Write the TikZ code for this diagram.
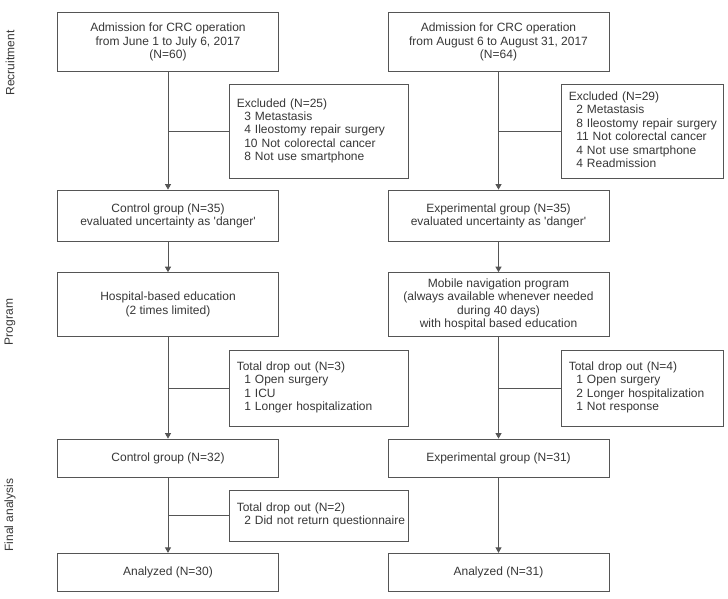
\documentclass[tikz,border=0pt]{standalone}
\usepackage{fontspec}
\setmainfont{Liberation Sans}
\usetikzlibrary{arrows.meta}
\definecolor{linec}{RGB}{85,85,85}
\definecolor{textc}{RGB}{55,55,55}
\tikzset{
  box/.style={draw=linec, line width=0.9pt, text=textc, align=center, inner sep=0pt, font=\fontsize{12}{13.4}\selectfont},
  sidebox/.style={draw=linec, line width=0.9pt, text=textc, align=left, inner xsep=7pt, inner ysep=0pt, font=\fontsize{12}{13.4}\selectfont},
  conn/.style={draw=linec, line width=0.9pt},
  arr/.style={conn, -{Triangle[width=6pt,length=5.5pt]}},
  sidelabel/.style={text=textc, rotate=90, font=\fontsize{12}{13.4}\selectfont}
}
\newcommand{\ind}{\hspace*{7.5pt}}
\newcommand{\sq}{\textquotesingle}
\newcommand{\lst}[1]{\begin{tabular}{@{}l@{}}#1\end{tabular}}
\begin{document}
\begin{tikzpicture}[x=1pt,y=-1pt]
\useasboundingbox (0,0) rectangle (728,599);
% side labels
\node[sidelabel] (lr) at (10,63) {Recruitment};
\node[sidelabel] (lp) at (10,322) {Program};
\node[sidelabel] (lf) at (10,515) {Final analysis};
% left column
\node[box, minimum width=221pt, minimum height=59pt] (a1) at (168,42.2) {Admission for CRC operation\\from June 1 to July 6, 2017\\(N=60)};
\node[sidebox, text width=164.7pt, minimum height=93.3pt, anchor=west] (e1) at (229.3,131.3) {\lst{Excluded (N=25)\\\ind 3 Metastasis\\\ind 4 Ileostomy repair surgery\\\ind 10 Not colorectal cancer\\\ind 8 Not use smartphone}};
\node[box, minimum width=221pt, minimum height=51.3pt] (c1) at (168,215.7) {Control group (N=35)\\evaluated uncertainty as \sq danger\sq};
\node[box, minimum width=221pt, minimum height=63.3pt] (h1) at (168,304.3) {Hospital-based education\\(2 times limited)};
\node[sidebox, text width=164.7pt, minimum height=76pt, anchor=west] (d1) at (229.3,388) {\lst{Total drop out (N=3)\\\ind 1 Open surgery\\\ind 1 ICU\\\ind 1 Longer hospitalization}};
\node[box, minimum width=221pt, minimum height=38.3pt] (g1) at (168,458.2) {Control group (N=32)};
\node[sidebox, text width=164.7pt, minimum height=51pt, anchor=west] (f1) at (229.3,515.5) {\lst{Total drop out (N=2)\\\ind 2 Did not return questionnaire}};
\node[box, minimum width=221pt, minimum height=38.4pt] (n1) at (168,572.5) {Analyzed (N=30)};
% right column
\node[box, minimum width=221pt, minimum height=59pt] (a2) at (498.5,42.2) {Admission for CRC operation\\from August 6 to August 31, 2017\\(N=64)};
\node[sidebox, text width=147.7pt, minimum height=93.3pt, anchor=west] (e2) at (561.3,131.3) {\lst{Excluded (N=29)\\\ind 2 Metastasis\\\ind 8 Ileostomy repair surgery\\\ind 11 Not colorectal cancer\\\ind 4 Not use smartphone\\\ind 4 Readmission}};
\node[box, minimum width=221pt, minimum height=51.3pt] (c2) at (498.5,215.7) {Experimental group (N=35)\\evaluated uncertainty as \sq danger\sq};
\node[box, minimum width=221pt, minimum height=63.3pt] (h2) at (498.5,304.3) {Mobile navigation program\\(always available whenever needed\\during 40 days)\\with hospital based education};
\node[sidebox, text width=147.7pt, minimum height=76pt, anchor=west] (d2) at (561.3,388) {\lst{Total drop out (N=4)\\\ind 1 Open surgery\\\ind 2 Longer hospitalization\\\ind 1 Not response}};
\node[box, minimum width=221pt, minimum height=38.3pt] (g2) at (498.5,458.2) {Experimental group (N=31)};
\node[box, minimum width=221pt, minimum height=38.4pt] (n2) at (498.5,572.5) {Analyzed (N=31)};
% connectors left
\draw[arr] (a1.south) -- (c1.north);
\draw[conn] (e1.west) -- (e1.west -| a1.south);
\draw[arr] (c1.south) -- (h1.north);
\draw[arr] (h1.south) -- (g1.north);
\draw[conn] (d1.west) -- (d1.west -| h1.south);
\draw[arr] (g1.south) -- (n1.north);
\draw[conn] (f1.west) -- (f1.west -| g1.south);
% connectors right
\draw[arr] (a2.south) -- (c2.north);
\draw[conn] (e2.west) -- (e2.west -| a2.south);
\draw[arr] (c2.south) -- (h2.north);
\draw[arr] (h2.south) -- (g2.north);
\draw[conn] (d2.west) -- (d2.west -| h2.south);
\draw[arr] (g2.south) -- (n2.north);
\end{tikzpicture}
\end{document}
